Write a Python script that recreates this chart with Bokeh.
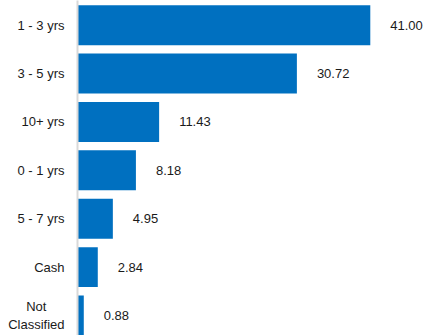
from bokeh.plotting import figure
from bokeh.models import Range1d, FixedTicker, ColumnDataSource, LabelSet
from bokeh.core.properties import value
from bokeh.embed import file_html
from bokeh.resources import INLINE

categories = ["1 - 3 yrs", "3 - 5 yrs", "10+ yrs", "0 - 1 yrs", "5 - 7 yrs", "Cash",
              "Not" + "\u00a0" * 5 + "\nClassified"]
values = [41.00, 30.72, 11.43, 8.18, 4.95, 2.84, 0.88]
value_labels = ["41.00", "30.72", "11.43", "8.18", "4.95", "2.84", "0.88"]

pos = list(range(len(categories)))
src = ColumnDataSource(dict(y=pos, v=values, lab=value_labels))

p = figure(width=423, height=335, output_backend="svg", toolbar_location=None,
           x_range=Range1d(0, 48.45), y_range=Range1d(6.413, -0.51),
           min_border_left=77, min_border_right=0, min_border_top=0, min_border_bottom=0)
p.outline_line_color = None
p.grid.visible = False
p.xaxis.visible = False

p.hbar(y="y", left=0, right="v", height=0.826, source=src, color="#0070C0", line_color=None)

ax = p.yaxis[0]
ax.ticker = FixedTicker(ticks=pos)
ax.major_label_overrides = {i: c for i, c in enumerate(categories)}
ax.axis_line_color = "#D9D9D9"
ax.axis_line_width = 2
ax.major_tick_line_color = None
ax.minor_tick_line_color = None
ax.major_label_standoff = 7
ax.major_label_text_font = "Liberation Sans"
ax.major_label_text_font_size = "13px"
ax.major_label_text_color = "#1a1a1a"

labels = LabelSet(x="v", y="y", text="lab", source=src, x_offset=20,
                  text_align="left", text_baseline="middle",
                  text_font=value("Liberation Sans"), text_font_size=value("13px"),
                  text_color="#1a1a1a")
p.add_layout(labels)

open("out.html", "w").write(file_html(p, INLINE))
